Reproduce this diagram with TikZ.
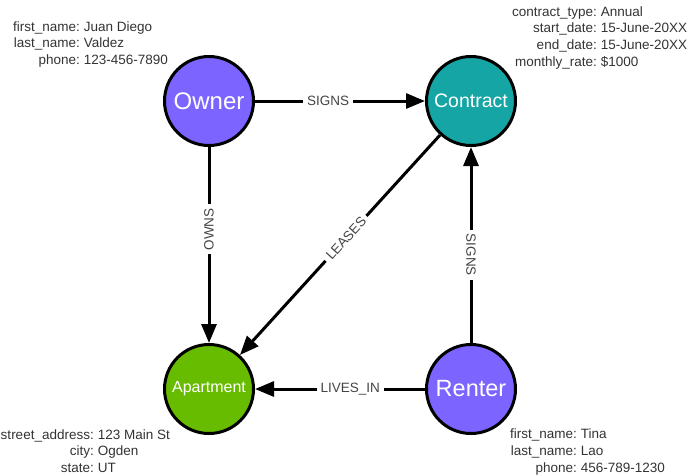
\documentclass[tikz,border=0pt]{standalone}
\usepackage{fontspec}
\setmainfont{Liberation Sans}
\usetikzlibrary{arrows.meta,calc}

\definecolor{entpurple}{HTML}{7B64FF}
\definecolor{entteal}{HTML}{16A5A5}
\definecolor{entgreen}{HTML}{68BC00}
\definecolor{relgray}{HTML}{444444}
\definecolor{propgray}{HTML}{333333}

\tikzset{
  entity/.style={circle, draw=black, line width=3pt, minimum size=89pt, inner sep=0pt, text=white},
  rel/.style={-{Triangle[length=19pt,width=15pt]}, line width=3pt},
  rellabel/.style={fill=white, text=relgray, inner sep=4pt, font=\fontsize{13.5}{16}\selectfont},
  propkey/.style={anchor=base east, inner sep=0pt, text=propgray, font=\fontsize{13.5}{16}\selectfont},
  propval/.style={anchor=base west, inner sep=0pt, text=propgray, font=\fontsize{13.5}{16}\selectfont}
}

% property lines: name, colon point, key/value list
\newcommand{\proplines}[3]{%
  \foreach \k/\v [count=\i] in {#3} {
    \node[propkey] (#1k\i) at ($(#2)+(0,{(\i-1)*16.8})$) {\k};
    \node[propval] (#1v\i) at ($(#1k\i.base east)+(3.75,0)$) {\v};
  }}

\begin{document}
\begin{tikzpicture}[x=1pt, y=-1pt]
  \useasboundingbox (0,0) rectangle (689,475);

  % Entities
  \node[entity, fill=entpurple, font=\fontsize{24}{28}\selectfont] (owner) at (209,101) {Owner};
  \node[entity, fill=entteal, font=\fontsize{19.5}{23}\selectfont] (contract) at (471,101) {Contract};
  \node[entity, fill=entgreen, font=\fontsize{16}{19}\selectfont] (apartment) at (209,389) {Apartment};
  \node[entity, fill=entpurple, font=\fontsize{23.5}{27}\selectfont] (renter) at (471,389) {Renter};

  % Relationships
  \draw[rel] (owner) -- node[rellabel, pos=.43] (signsO) {SIGNS} (contract);
  \draw[rel] (owner) -- node[rellabel, pos=.42, rotate=90] (owns) {OWNS} (apartment);
  \draw[rel] (contract) -- node[rellabel, pos=.47, sloped] (leases) {LEASES} (apartment);
  \draw[rel] (renter) -- node[rellabel, pos=.44] (livesin) {LIVES\_IN} (apartment);
  \draw[rel] (renter) -- node[rellabel, pos=.45, rotate=-90] (signsR) {SIGNS} (contract);

  % Properties
  \coordinate (ownerprops) at (80,31);
  \coordinate (contractprops) at (597,16);
  \coordinate (apartmentprops) at (94,439);
  \coordinate (renterprops) at (577,438.5);
  \proplines{owner}{ownerprops}{first\_name:/Juan Diego, last\_name:/Valdez, phone:/123-456-7890}
  \proplines{contract}{contractprops}{contract\_type:/Annual, start\_date:/15-June-20XX, end\_date:/15-June-20XX, monthly\_rate:/\$1000}
  \proplines{apartment}{apartmentprops}{street\_address:/123 Main St, city:/Ogden, state:/UT}
  \proplines{renter}{renterprops}{first\_name:/Tina, last\_name:/Lao, phone:/456-789-1230}
\end{tikzpicture}
\end{document}
